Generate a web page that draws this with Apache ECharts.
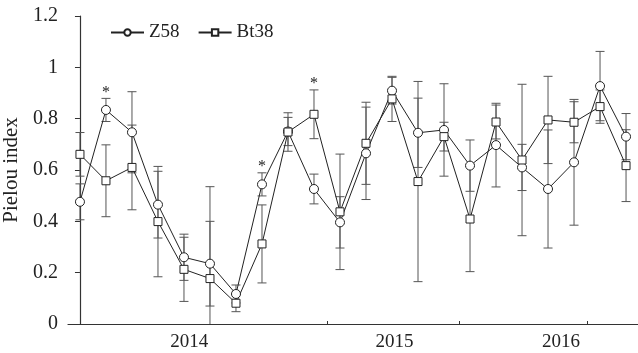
<!DOCTYPE html>
<html>
<head>
<meta charset="utf-8">
<script src="https://cdn.jsdelivr.net/npm/echarts@6/dist/echarts.min.js"></script>
<style>
  html, body { margin: 0; padding: 0; background: #fff; }
  #chart { width: 638px; height: 353px; }
</style>
</head>
<body>
<div id="chart"></div>
<script>
// Pielou evenness per sampling date (22 samplings, 2014-2016)
const seriesNames = ['Z58', 'Bt38'];
const z58 = [0.476, 0.834, 0.747, 0.465, 0.260, 0.235, 0.117, 0.544, 0.750, 0.526, 0.396,
             0.665, 0.909, 0.745, 0.756, 0.617, 0.697, 0.610, 0.526, 0.630, 0.927, 0.730];
const z58Err = [0.070, 0.045, 0.158, 0.130, 0.090, 0.165, 0.035, 0.045, 0.055, 0.058, 0.100,
                0.180, 0.052, 0.135, 0.180, 0.100, 0.163, 0.090, 0.230, 0.245, 0.135, 0.090];
const bt38 = [0.661, 0.558, 0.610, 0.399, 0.213, 0.177, 0.081, 0.312, 0.748, 0.817, 0.437,
              0.704, 0.877, 0.555, 0.730, 0.409, 0.787, 0.639, 0.795, 0.786, 0.847, 0.617];
const bt38Err = [0.085, 0.140, 0.165, 0.215, 0.125, 0.358, 0.033, 0.152, 0.075, 0.095, 0.225,
                 0.160, 0.088, 0.390, 0.056, 0.205, 0.066, 0.295, 0.170, 0.080, 0.065, 0.140];
// sampling indices with a significant difference (marked with *)
const z58Significant = [1, 7];
const bt38Significant = [9];
// year labels and where they sit along the sampling index axis
const yearLabels = ['2014', '2015', '2016'];
const yearLabelAt = [4.2, 12.1, 18.5];
// year boundary ticks along the sampling index axis
const yearTicksAt = [9.5, 14.6, 19.5];

const FONT = '"Liberation Serif", "Times New Roman", serif';

function pairs(values) {
  return values.map((v, i) => [i, v]);
}
function errData(values, errs, sig) {
  return values.map((v, i) => [i, v - errs[i], v + errs[i], sig.indexOf(i) >= 0 ? 1 : 0]);
}

function renderErrorBar(params, api) {
  const i = api.value(0);
  const lo = api.value(1);
  const hi = api.value(2);
  const flagged = api.value(3) === 1;
  const top = api.coord([i, hi]);
  const bottom = api.coord([i, Math.max(lo, 0)]);
  const half = 4.5;
  const style = { stroke: '#555', lineWidth: 1, fill: null };
  const children = [
    { type: 'line', shape: { x1: top[0], y1: top[1], x2: bottom[0], y2: bottom[1] }, style },
    { type: 'line', shape: { x1: top[0] - half, y1: top[1], x2: top[0] + half, y2: top[1] }, style }
  ];
  if (lo >= 0) {
    children.push({ type: 'line', shape: { x1: bottom[0] - half, y1: bottom[1], x2: bottom[0] + half, y2: bottom[1] }, style });
  }
  if (flagged) {
    children.push({
      type: 'text',
      style: { text: '*', x: top[0], y: top[1] - 6, align: 'center', verticalAlign: 'middle',
               font: '16px ' + FONT, fill: '#222' }
    });
  }
  return { type: 'group', children };
}

const chart = echarts.init(document.getElementById('chart'), null, { renderer: 'canvas' });
chart.setOption({
  animation: false,
  backgroundColor: '#fff',
  grid: { left: 68, right: 0, top: 16, bottom: 29, containLabel: false, outerBoundsMode: 'none' },
  legend: {
    left: 105, top: 18,
    itemWidth: 33, itemHeight: 8, itemGap: 18,
    textStyle: { fontFamily: FONT, fontSize: 19, color: '#222' },
    data: seriesNames
  },
  xAxis: {
    type: 'value', min: -0.46, max: 21.46,
    axisLine: { lineStyle: { color: '#333', width: 1.2 } },
    splitLine: { show: false },
    axisTick: { show: true, inside: true, length: 3, customValues: yearTicksAt,
                lineStyle: { color: '#333' } },
    axisLabel: {
      show: true, customValues: yearLabelAt, margin: 9,
      fontFamily: FONT, fontSize: 19, color: '#222',
      formatter: (v) => {
        const k = yearLabelAt.findIndex((p) => Math.abs(p - v) < 1e-6);
        return k >= 0 ? yearLabels[k] : '';
      }
    }
  },
  yAxis: {
    type: 'value', min: 0, max: 1.2, interval: 0.2,
    name: 'Pielou index', nameLocation: 'middle', nameGap: 40, nameRotate: 90,
    nameTextStyle: { fontFamily: FONT, fontSize: 21, color: '#222' },
    axisLine: { show: true, lineStyle: { color: '#333', width: 1.2 } },
    axisTick: { show: true, length: 5, lineStyle: { color: '#333' } },
    splitLine: { show: false },
    axisLabel: {
      margin: 10, fontFamily: FONT, fontSize: 20, color: '#222',
      formatter: (v) => String(Math.round(v * 10) / 10)
    }
  },
  series: [
    {
      type: 'custom', name: 'Z58 sd', renderItem: renderErrorBar,
      data: errData(z58, z58Err, z58Significant), z: 1, silent: true,
      encode: { x: 0, y: [1, 2] }
    },
    {
      type: 'custom', name: 'Bt38 sd', renderItem: renderErrorBar,
      data: errData(bt38, bt38Err, bt38Significant), z: 1, silent: true,
      encode: { x: 0, y: [1, 2] }
    },
    {
      type: 'line', name: seriesNames[0], data: pairs(z58), z: 3,
      symbol: 'circle', symbolSize: 9, showAllSymbol: true,
      lineStyle: { color: '#222', width: 1 },
      itemStyle: { color: '#fff', borderColor: '#222', borderWidth: 1 }
    },
    {
      type: 'line', name: seriesNames[1], data: pairs(bt38), z: 3,
      symbol: 'rect', symbolSize: 8, showAllSymbol: true,
      lineStyle: { color: '#222', width: 1 },
      itemStyle: { color: '#fff', borderColor: '#222', borderWidth: 1 }
    }
  ]
});
</script>
</body>
</html>
